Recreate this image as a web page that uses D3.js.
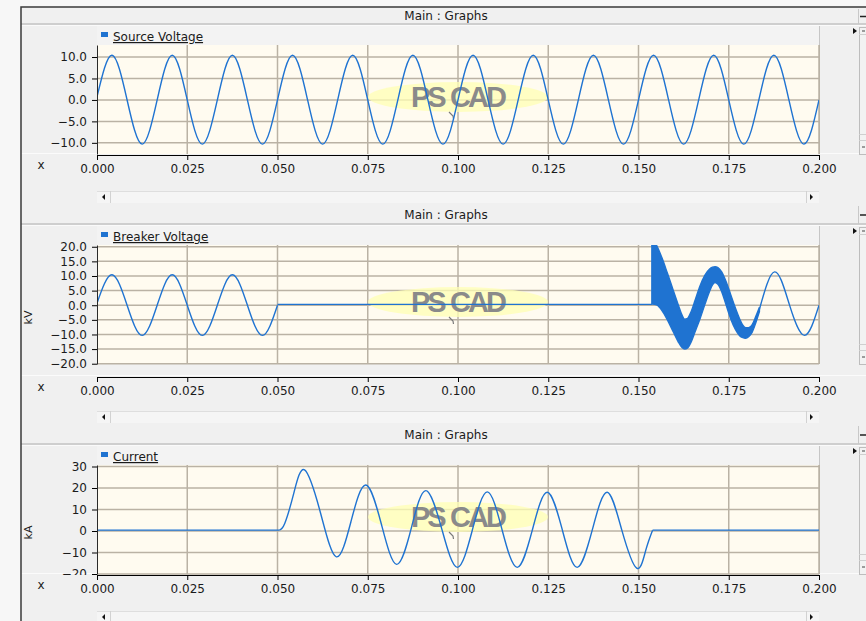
<!DOCTYPE html>
<html>
<head>
<meta charset="utf-8">
<script src="https://cdn.jsdelivr.net/npm/d3@7"></script>
<style>
    body { margin: 0; background: #f7f7f7; }
    svg { display: block; font-family: "DejaVu Sans", sans-serif; }
</style>
</head>
<body>
<svg id="chart" width="866" height="621"></svg>
<script>
// time axis (seconds)
const xTicks = [0, 0.025, 0.05, 0.075, 0.1, 0.125, 0.15, 0.175, 0.2];
const quarterPeriod = 1 / 240; // 60 Hz, one sample per quarter cycle

// Source Voltage, one reading per quarter cycle
const sourceVoltage = [0.7,
    10.4, 0, -10.3, 0,  10.4, 0, -10.3, 0,  10.4, 0, -10.3, 0,
    10.4, 0, -10.3, 0,  10.4, 0, -10.3, 0,  10.4, 0, -10.3, 0,
    10.4, 0, -10.3, 0,  10.4, 0, -10.3, 0,  10.4, 0, -10.3, 0,
    10.4, 0, -10.3, 0,  10.4, 0, -10.3, 0,  10.4, 0, -10.3, 0];
const sourceTicks = [10, 5, 0, -5, -10];

// Breaker Voltage
const breakerClosed = [0.7, 10.4, 0, -10.3, 0, 10.4, 0, -10.3, 0, 10.4, 0, -10.3, 0];
const breakerOpenT = [0.05, 0.1537];
const breakerOpenV = [0.3, 0.3];
// envelope of the fast reclosing oscillation (drawn as a filled band)
const breakerBandT  = [0.1537, 0.1550, 0.1565, 0.1580, 0.1595, 0.1610, 0.1620, 0.1628, 0.1636, 0.1645, 0.1657, 0.1670, 0.1684, 0.1697,
    0.1705, 0.1712, 0.1720, 0.1730, 0.1742, 0.1755, 0.1768, 0.1780, 0.1789, 0.1797, 0.1805, 0.1815, 0.1825, 0.1835];
const breakerBandLo = [0.4, 0.1, -1.8, -5.0, -8.8, -12.5, -14.4, -15.0, -14.6, -12.8, -9.0, -4.8, 0.3, 4.8,
    7.0, 7.8, 7.2, 4.8, 0.3, -4.5, -8.2, -10.4, -11.1, -11.3, -10.8, -9.2, -6.0, -2.2];
const breakerBandHi = [23, 20.5, 16.2, 11.0, 5.6, 0.2, -3.2, -4.8, -4.5, -2.4, 1.8, 6.5, 10.3, 12.4,
    13.0, 13.2, 12.9, 11.5, 8.3, 3.8, -0.8, -4.6, -6.8, -7.7, -7.7, -6.6, -3.8, -0.7];
const breakerTailT = [0.1835, 0.1877, 0.1918, 0.1960, 0.2];
const breakerTailV = [-1.4, 11.4, 0.2, -10.3, 0];
const breakerTicks = [20, 15, 10, 5, 0, -5, -10, -15, -20];

// Current
const currentBeforeT = [0, 0.0505];
const currentBeforeV = [0.4, 0.4];
const currentFaultT = [0.0505, 0.0520, 0.0545, 0.0575, 0.0619, 0.0663, 0.0704, 0.0745, 0.0788, 0.0830, 0.0871, 0.0911, 0.0955, 0.0998,
    0.1040, 0.1081, 0.1122, 0.1164, 0.1206, 0.1247, 0.1289, 0.1330, 0.1372, 0.1413, 0.1454, 0.1495, 0.1520, 0.1539];
const currentFaultV = [0.4, 3.5, 17.5, 28.4, 8.5, -12.0, 4.7, 21.4, 3.0, -15.5, 1.6, 18.8, 1.0, -16.9,
    0.6, 18.2, 0.6, -16.9, 0.5, 18.0, 0.5, -16.9, 0.5, 18.0, 0.3, -17.3, -9.0, 0.4];
const currentAfterT = [0.1539, 0.2];
const currentAfterV = [0.4, 0.4];
const currentTicks = [30, 20, 10, 0, -10, -20];

let zip = (ts, vs) => ts.map((t, i) => [t, vs[i]]);
let stepped = vs => vs.map((v, i) => [i * quarterPeriod, v]);

const blue = '#1f73d1';

let panels = [
    {top: 7, hdrBottom: 24, legTop: 26, plotTop: 45, plotBottom: 154, axisY: 155, scrollY: 191,
        domain: [-12.6, 12.8], ticks: sourceTicks, fmt: '.1f', name: 'Source Voltage', unit: '', wmY: 97,
        lines: [{pts: stepped(sourceVoltage), curve: d3.curveNatural}]},
    {top: 204, hdrBottom: 224, legTop: 226, plotTop: 245, plotBottom: 364, axisY: 377, scrollY: 411,
        domain: [-20.1, 20.6], ticks: breakerTicks, fmt: '.1f', name: 'Breaker Voltage', unit: 'kV', wmY: 302,
        lines: [
            {pts: stepped(breakerClosed), curve: d3.curveNatural},
            {pts: zip(breakerOpenT, breakerOpenV), curve: d3.curveLinear},
            {pts: zip(breakerTailT, breakerTailV), curve: d3.curveNatural}
        ],
        band: breakerBandT.map((t, i) => ({t: t, lo: breakerBandLo[i], hi: breakerBandHi[i]}))},
    {top: 424, hdrBottom: 444, legTop: 446, plotTop: 465, plotBottom: 574, axisY: 575, scrollY: 611,
        domain: [-20, 30.7], ticks: currentTicks, fmt: 'd', name: 'Current', unit: 'kA', wmY: 517,
        lines: [
            {pts: zip(currentBeforeT, currentBeforeV), curve: d3.curveLinear},
            {pts: zip(currentFaultT, currentFaultV), curve: d3.curveNatural},
            {pts: zip(currentAfterT, currentAfterV), curve: d3.curveLinear}
        ]}
];

let svg = d3.select('#chart');

// window background
svg.append('rect').attr('width', 866).attr('height', 621).attr('fill', '#f7f7f7');
svg.append('rect').attr('x', 21).attr('y', 7).attr('width', 845).attr('height', 614).attr('fill', '#f0f0f0');

let x = d3.scaleLinear().domain([0, 0.2]).range([97, 819]);

panels.forEach((p, i) => {
    let g = svg.append('g');
    let y = d3.scaleLinear().domain(p.domain).range([p.plotBottom, p.plotTop]);

    //
    // HEADER
    //
    g.append('line').attr('x1', 21).attr('x2', 866).attr('y1', p.hdrBottom).attr('y2', p.hdrBottom)
        .attr('stroke', '#c3c3c3').attr('stroke-width', 1.5);
    g.append('line').attr('x1', 21).attr('x2', 866).attr('y1', p.hdrBottom + 1.5).attr('y2', p.hdrBottom + 1.5)
        .attr('stroke', '#fafafa');
    g.append('text')
        .attr('x', 446).attr('y', (p.top + p.hdrBottom) / 2 + 1)
        .attr('text-anchor', 'middle').attr('dominant-baseline', 'middle')
        .style('font-size', '12px').attr('fill', '#1b1b1b')
        .text('Main : Graphs');
    // header button
    g.append('line').attr('x1', 858.5).attr('x2', 858.5).attr('y1', p.top + 2).attr('y2', p.hdrBottom)
        .attr('stroke', '#c8c8c8');
    g.append('line').attr('x1', 860).attr('x2', 866).attr('y1', (p.top + p.hdrBottom) / 2 + 1).attr('y2', (p.top + p.hdrBottom) / 2 + 1)
        .attr('stroke', '#222').attr('stroke-width', 1.5);

    //
    // LEGEND BAR
    //
    g.append('rect').attr('x', 97).attr('y', p.legTop).attr('width', 722).attr('height', p.plotTop - p.legTop)
        .attr('fill', '#f3f3f3');
    g.append('path')
        .attr('d', `M819.5,${p.legTop}V${p.plotTop}`)
        .attr('stroke', '#c6c6c6').attr('fill', 'none');
    g.append('rect').attr('x', 101).attr('y', p.legTop + 6).attr('width', 7).attr('height', 5).attr('fill', blue);
    g.append('text')
        .attr('x', 113).attr('y', p.legTop + 15)
        .style('font-size', '12px').style('text-decoration', 'underline')
        .attr('fill', '#1b1b1b')
        .text(p.name);

    //
    // PLOT AREA
    //
    g.append('rect').attr('x', 97).attr('y', p.plotTop).attr('width', 722).attr('height', p.plotBottom - p.plotTop)
        .attr('fill', '#fffbf0');
    g.append('line').attr('x1', 819.5).attr('x2', 819.5).attr('y1', p.plotTop).attr('y2', p.plotBottom)
        .attr('stroke', '#b9b3a8');

    // grid
    g.append('g').selectAll('line').data(xTicks.slice(1)).enter().append('line')
        .attr('x1', d => x(d)).attr('x2', d => x(d))
        .attr('y1', p.plotTop).attr('y2', p.plotBottom)
        .attr('stroke', '#bab2a4').attr('stroke-width', 1.5);
    g.append('g').selectAll('line').data(p.ticks).enter().append('line')
        .attr('x1', 97).attr('x2', 819)
        .attr('y1', d => y(d)).attr('y2', d => y(d))
        .attr('stroke', '#bab2a4').attr('stroke-width', 1.5);

    // watermark
    let wm = g.append('g');
    wm.append('ellipse').attr('cx', 458).attr('cy', p.wmY).attr('rx', 90).attr('ry', 15)
        .attr('fill', '#ffffb4').attr('opacity', 0.75);
    wm.append('text')
        .attr('x', 411).attr('y', p.wmY + 10)
        .style('font-family', '"Liberation Sans", Arial, sans-serif')
        .style('font-weight', 'bold').style('font-size', '29px').style('letter-spacing', '-3px')
        .attr('fill', '#8a8a8a')
        .text('PS');
    wm.append('text')
        .attr('x', 450).attr('y', p.wmY + 10)
        .style('font-family', '"Liberation Sans", Arial, sans-serif')
        .style('font-weight', 'bold').style('font-size', '29px').style('letter-spacing', '-3px')
        .attr('fill', '#8a8a8a')
        .text('CAD');
    wm.append('path')
        .attr('d', `M449,${p.wmY + 15}L453,${p.wmY + 19}L453.5,${p.wmY + 22}`)
        .attr('stroke', '#7a7a7a').attr('stroke-width', 1.2).attr('fill', 'none');

    // series
    svg.append('clipPath').attr('id', 'clip' + i)
        .append('rect').attr('x', 97).attr('y', p.plotTop).attr('width', 722).attr('height', p.plotBottom - p.plotTop);
    let series = g.append('g').attr('clip-path', `url(#clip${i})`);

    p.lines.forEach(seg => {
        series.append('path')
            .datum(seg.pts)
            .attr('fill', 'none')
            .attr('stroke', blue)
            .attr('stroke-width', 1.4)
            .attr('d', d3.line().x(d => x(d[0])).y(d => y(d[1])).curve(seg.curve));
    });
    if (p.band) {
        series.append('path')
            .datum(p.band)
            .attr('fill', blue)
            .attr('stroke', blue)
            .attr('stroke-width', 1.4)
            .attr('d', d3.area().x(d => x(d.t)).y0(d => y(d.lo)).y1(d => y(d.hi)).curve(d3.curveMonotoneX));
    }

    //
    // AXES
    //
    svg.append('clipPath').attr('id', 'yclip' + i)
        .append('rect').attr('x', 21).attr('y', p.legTop).attr('width', 90).attr('height', p.axisY - p.legTop);
    let yAxis = g.append('g')
        .attr('clip-path', `url(#yclip${i})`)
        .append('g')
        .attr('transform', 'translate(97,0)')
        .call(d3.axisLeft(y).tickValues(p.ticks).tickFormat(d3.format(p.fmt)).tickSize(5).tickSizeOuter(0).tickPadding(5));
    yAxis.selectAll('text').style('font-size', '12px').style('font-family', '"DejaVu Sans", sans-serif').attr('fill', '#1b1b1b');
    yAxis.select('.domain').attr('stroke', '#2a2a2a');

    g.append('line').attr('x1', 21).attr('x2', 866).attr('y1', p.axisY - 1.5).attr('y2', p.axisY - 1.5)
        .attr('stroke', '#fbfbfb').lower();

    let xAxis = g.append('g')
        .attr('transform', `translate(0,${p.axisY})`)
        .call(d3.axisBottom(x).tickValues(xTicks).tickFormat(d3.format('.3f')).tickSize(5).tickSizeOuter(0).tickPadding(4));
    xAxis.selectAll('text').style('font-size', '12px').style('font-family', '"DejaVu Sans", sans-serif').attr('fill', '#1b1b1b');

    g.append('text')
        .attr('x', 41).attr('y', p.axisY + 14)
        .attr('text-anchor', 'middle')
        .style('font-size', '12px').attr('fill', '#1b1b1b')
        .text('x');

    if (p.unit) {
        g.append('text')
            .attr('transform', `translate(32,${(p.plotTop + p.plotBottom) / 2 + 13})rotate(-90)`)
            .attr('text-anchor', 'middle')
            .style('font-size', '11px').attr('fill', '#1b1b1b')
            .text(p.unit);
    }

    //
    // SCROLLBARS
    //
    let sb = g.append('g');
    sb.append('rect').attr('x', 97).attr('y', p.scrollY).attr('width', 722).attr('height', 12).attr('fill', '#f5f5f5');
    sb.append('line').attr('x1', 97).attr('x2', 819).attr('y1', p.scrollY + 0.5).attr('y2', p.scrollY + 0.5).attr('stroke', '#dedede');
    sb.append('line').attr('x1', 110.5).attr('x2', 110.5).attr('y1', p.scrollY).attr('y2', p.scrollY + 12).attr('stroke', '#d2d2d2');
    sb.append('line').attr('x1', 806.5).attr('x2', 806.5).attr('y1', p.scrollY).attr('y2', p.scrollY + 12).attr('stroke', '#d2d2d2');
    sb.append('path').attr('d', `M105,${p.scrollY + 3}L102,${p.scrollY + 6}L105,${p.scrollY + 9}Z`).attr('fill', '#111');
    sb.append('path').attr('d', `M810,${p.scrollY + 3}L813,${p.scrollY + 6}L810,${p.scrollY + 9}Z`).attr('fill', '#111');

    // right side strip
    sb.append('path').attr('d', `M853,${p.legTop + 2}L857,${p.legTop + 5}L853,${p.legTop + 8}Z`).attr('fill', '#111');
    sb.append('rect').attr('x', 859.5).attr('y', p.legTop + 1.5).attr('width', 8).attr('height', p.plotBottom - p.legTop - 1)
        .attr('fill', '#f2f2f2').attr('stroke', '#bdbdbd');
    sb.append('line').attr('x1', 859).attr('x2', 866).attr('y1', p.legTop + 8.5).attr('y2', p.legTop + 8.5).attr('stroke', '#cfcfcf');
    sb.append('line').attr('x1', 859).attr('x2', 866).attr('y1', p.plotBottom - 19.5).attr('y2', p.plotBottom - 19.5).attr('stroke', '#cfcfcf');
    sb.append('line').attr('x1', 859).attr('x2', 866).attr('y1', p.plotBottom - 13.5).attr('y2', p.plotBottom - 13.5).attr('stroke', '#cfcfcf');
    sb.append('line').attr('x1', 862).attr('x2', 865).attr('y1', p.legTop + 5).attr('y2', p.legTop + 5).attr('stroke', '#444');
    sb.append('line').attr('x1', 862).attr('x2', 865).attr('y1', p.plotBottom - 7).attr('y2', p.plotBottom - 7).attr('stroke', '#444');
});

// window border
svg.append('path')
    .attr('d', 'M21,621V7H866')
    .attr('fill', 'none').attr('stroke', '#3a3a3a').attr('stroke-width', 1.5);
</script>
</body>
</html>
